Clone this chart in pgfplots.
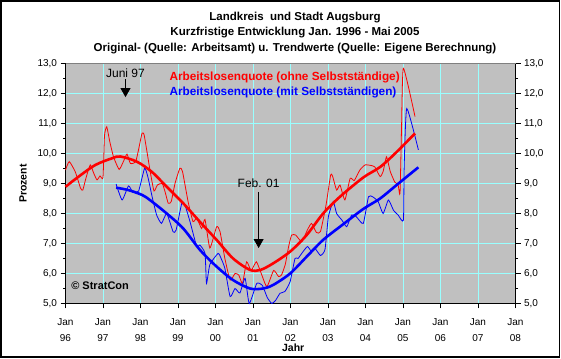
\documentclass[border=0pt]{standalone}
\usepackage{fontspec}
\setmainfont{Liberation Sans}
\usepackage{pgfplots}
\usepackage{pgfplotstable}
\pgfplotsset{compat=1.18}
\usetikzlibrary{arrows.meta}
\definecolor{plotgray}{RGB}{192,192,192}
\definecolor{gridcyan}{RGB}{153,255,255}
\definecolor{bordergray}{RGB}{128,128,128}

\pgfplotstableread{
x y
1996.00 9.45
1996.10 9.73
1996.26 9.39
1996.40 8.85
1996.46 8.78
1996.55 9.20
1996.66 9.62
1996.75 9.35
1996.84 9.12
1996.92 9.25
1997.00 9.20
1997.04 10.60
1997.10 10.89
1997.18 10.40
1997.28 9.89
1997.43 9.47
1997.55 9.75
1997.64 9.98
1997.73 9.67
1997.87 9.72
1997.96 10.20
1998.04 10.67
1998.10 10.60
1998.26 9.39
1998.36 8.75
1998.45 8.95
1998.58 9.00
1998.66 8.70
1998.74 8.34
1998.82 8.40
1998.92 9.00
1999.05 9.51
1999.12 9.40
1999.27 8.39
1999.40 7.73
1999.50 7.85
1999.63 7.50
1999.72 7.80
1999.85 6.85
2000.03 7.56
2000.12 7.40
2000.25 6.50
2000.39 5.78
2000.52 6.00
2000.62 5.95
2000.72 5.67
2000.83 6.39
2000.95 6.10
2001.09 6.39
2001.22 6.00
2001.37 5.56
2001.55 6.10
2001.68 5.90
2001.76 5.95
2001.86 6.30
2001.95 6.90
2002.03 7.28
2002.14 7.28
2002.30 7.06
2002.45 7.45
2002.56 7.67
2002.69 7.37
2002.80 7.40
2002.95 8.30
2003.07 9.28
2003.12 9.25
2003.23 8.78
2003.32 8.95
2003.45 8.45
2003.59 9.17
2003.70 9.10
2003.85 9.45
2003.99 9.62
2004.15 9.60
2004.25 9.55
2004.39 9.23
2004.47 9.40
2004.56 9.89
2004.66 9.40
2004.78 9.05
2004.87 8.95
2004.92 8.67
2004.96 10.80
2005.01 12.84
2005.32 11.23
}\redorig

\pgfplotstableread{
x y
1997.35 8.98
1997.51 8.45
1997.68 8.92
1997.80 8.70
1997.95 8.75
1998.11 9.51
1998.20 9.20
1998.31 8.56
1998.43 7.95
1998.56 7.67
1998.70 8.00
1998.87 7.39
1998.95 7.45
1999.10 8.34
1999.18 8.30
1999.32 7.73
1999.50 6.89
1999.58 6.95
1999.72 6.67
1999.76 5.67
1999.85 6.30
2000.07 6.67
2000.15 6.50
2000.25 6.17
2000.39 5.23
2000.52 5.50
2000.65 5.35
2000.79 5.84
2000.90 5.00
2001.10 5.67
2001.25 5.60
2001.38 5.20
2001.50 5.00
2001.60 5.10
2001.72 5.34
2001.85 5.40
2001.99 5.73
2002.12 6.50
2002.20 6.50
2002.30 6.67
2002.45 6.90
2002.55 6.75
2002.65 6.84
2002.80 6.60
2002.92 6.80
2003.01 7.89
2003.14 8.39
2003.23 8.00
2003.37 7.78
2003.50 7.56
2003.63 7.95
2003.75 7.90
2003.94 7.67
2004.08 8.56
2004.20 8.55
2004.34 8.39
2004.47 8.00
2004.61 8.45
2004.75 8.10
2004.87 7.95
2005.01 7.78
2005.03 9.50
2005.10 11.50
2005.41 10.12
}\blueorig

\pgfplotstableread{
x y
1996.00 8.89
1996.35 9.23
1996.80 9.62
1997.24 9.84
1997.46 9.90
1997.90 9.73
1998.30 9.39
1998.70 8.89
1999.14 8.34
1999.60 7.70
2000.03 7.12
2000.47 6.50
2000.92 6.12
2001.20 6.12
2001.54 6.34
2001.99 6.73
2002.43 7.28
2002.87 8.00
2003.32 8.56
2003.94 9.20
2004.39 9.55
2004.83 10.05
2005.32 10.67
}\redtrend

\pgfplotstableread{
x y
1997.35 8.86
1997.68 8.78
1998.04 8.62
1998.25 8.45
1998.70 8.00
1999.14 7.50
1999.59 6.78
2000.03 6.23
2000.47 5.78
2000.92 5.50
2001.27 5.50
2001.54 5.62
2001.99 6.00
2002.43 6.56
2002.87 7.12
2003.32 7.56
2003.94 8.15
2004.39 8.50
2004.83 8.95
2005.41 9.54
}\bluetrend

\pgfplotsset{
  myaxis/.style={
    at={(65.5pt,54.5pt)}, anchor=south west,
    width=450pt, height=240pt, scale only axis,
    xmin=1996, xmax=2008, ymin=5, ymax=13,
    ytick={5,6,...,13}, minor y tick num=1,
    tick align=outside,
    major tick length=5pt, minor tick length=2.5pt,
    tick style={black, line width=0.6pt},
    axis line style={-, black, line width=0.8pt},
    yticklabel style={font=\fontsize{10}{12}\selectfont,
      /pgf/number format/.cd, fixed, fixed zerofill, precision=1, use comma, assume math mode=true},
  }
}

\begin{document}
\begin{tikzpicture}
\useasboundingbox (0,0) rectangle (561pt,358pt);
\fill[white] (0,0) rectangle (561pt,358pt);
\draw[line width=1.5pt] (1pt,1pt) rectangle (559.5pt,357pt);

\node[font=\fontsize{11.5}{13}\bfseries\selectfont] at (295pt,340.5pt) {Landkreis\ \ und Stadt Augsburg};
\node[font=\fontsize{11.5}{13}\bfseries\selectfont] at (295pt,325pt) {Kurzfristige Entwicklung Jan. 1996 - Mai 2005};
\node[font=\fontsize{11.5}{13}\bfseries\selectfont] at (295pt,309.5pt) {Original- (Quelle: Arbeitsamt) u. Trendwerte (Quelle: Eigene Berechnung)};

\begin{axis}[myaxis,
  clip=false,
  axis background/.style={fill=plotgray},
  axis x line*=bottom, axis y line*=left,
  xtick={1996,...,2008},
  xticklabels={{Jan\\96},{Jan\\97},{Jan\\98},{Jan\\99},{Jan\\00},{Jan\\01},{Jan\\02},{Jan\\03},{Jan\\04},{Jan\\05},{Jan\\06},{Jan\\07},{Jan\\08}},
  xticklabel style={align=center, font=\fontsize{10}{15.5}\selectfont, yshift=-7pt},
  minor x tick num=11,
  grid=major, major grid style={gridcyan, line width=0.8pt},
]
\draw[bordergray, line width=0.8pt] (rel axis cs:0,1) -- (rel axis cs:1,1);

\addplot[red, line width=0.8pt, smooth, tension=0.3] table[x=x,y=y] {\redorig};
\addplot[blue, line width=0.8pt, smooth, tension=0.3] table[x=x,y=y] {\blueorig};
\addplot[red, line width=2.6pt, smooth] table[x=x,y=y] {\redtrend};
\addplot[blue, line width=2.6pt, smooth] table[x=x,y=y] {\bluetrend};

\node[font=\fontsize{12}{14}\selectfont] at (axis cs:1997.6,12.68) {Juni 97};
\draw[line width=0.8pt, -{Triangle[width=10pt,length=9pt]}] (axis cs:1997.6,12.48) -- (axis cs:1997.6,11.88);
\node[font=\fontsize{12}{14}\selectfont] at (axis cs:2001.15,9.02) {Feb. 01};
\draw[line width=0.8pt, -{Triangle[width=10pt,length=9pt]}] (axis cs:2001.15,8.72) -- (axis cs:2001.15,6.85);

\node[anchor=west, inner sep=0pt, text=red, font=\fontsize{11.8}{13}\bfseries\selectfont] at (axis cs:1998.77,12.52) {Arbeitslosenquote (ohne Selbstständige)};
\node[anchor=west, inner sep=0pt, text=blue, font=\fontsize{11.8}{13}\bfseries\selectfont] at (axis cs:1998.77,12.02) {Arbeitslosenquote (mit Selbstständigen)};
\node[anchor=west, inner sep=0pt, font=\fontsize{11}{13}\bfseries\selectfont] at (axis cs:1996.15,5.58) {© StratCon};

\path (rel axis cs:0.506,0) ++(0pt,-44.5pt) node[inner sep=0pt, font=\fontsize{10.5}{12}\bfseries\selectfont] {Jahr};
\path (rel axis cs:0,0.5) ++(-42.5pt,0pt) node[rotate=90, font=\fontsize{10.5}{12}\bfseries\selectfont] {Prozent};
\end{axis}

\begin{axis}[myaxis,
  axis y line*=right, axis x line=none,
]
\end{axis}
\end{tikzpicture}
\end{document}
